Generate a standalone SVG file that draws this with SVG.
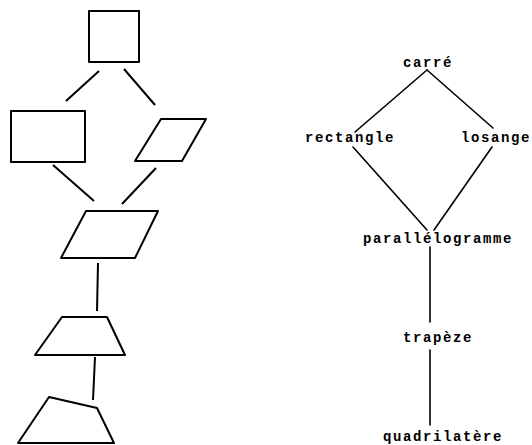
<svg xmlns="http://www.w3.org/2000/svg" width="532" height="445" viewBox="0 0 532 445">
<style>
.s{fill:none;stroke:#000;stroke-width:2;stroke-linejoin:round}
.c{fill:none;stroke:#000;stroke-width:1.6;stroke-linecap:round}
.t{font-family:"Liberation Mono",monospace;font-size:14px;font-weight:bold;letter-spacing:1.6px;fill:#000}
</style>
<rect width="532" height="445" fill="#fff"/>
<g id="shape-carre"><rect class="s" x="89" y="11" width="50" height="51"/></g>
<g id="shape-rectangle"><rect class="s" x="11" y="111" width="74" height="51"/></g>
<g id="shape-losange"><polygon class="s" points="161,119 206,119 182,161 135,161"/></g>
<g id="shape-parallelogramme"><polygon class="s" points="86,211 158,211 135,258 61,258"/></g>
<g id="shape-trapeze"><polygon class="s" points="62,317 107,317 125,355 35,355"/></g>
<g id="shape-quadrilatere"><polygon class="s" points="49,397 97,408 114,443 18,443"/></g>
<g id="label-carre"><text class="t" x="403" y="67">carré</text></g>
<g id="label-rectangle"><text class="t" x="305" y="142">rectangle</text></g>
<g id="label-losange"><text class="t" x="461" y="142" letter-spacing="1.4">losange</text></g>
<g id="label-parallelogramme"><text class="t" x="363" y="243">parallélogramme</text></g>
<g id="label-trapeze"><text class="t" x="403" y="342">trapèze</text></g>
<g id="label-quadrilatere"><text class="t" x="383" y="441">quadrilatère</text></g>
<g id="connectors">
<line class="s" x1="99" y1="71" x2="66" y2="101"/>
<line class="s" x1="124" y1="69" x2="155" y2="105"/>
<line class="s" x1="53" y1="165" x2="94" y2="201"/>
<line class="s" x1="156" y1="168" x2="122" y2="204"/>
<line class="s" x1="98" y1="263" x2="97" y2="311"/>
<line class="s" x1="95" y1="357" x2="93" y2="400"/>
<line class="c" x1="427" y1="70" x2="355" y2="132"/>
<line class="c" x1="427" y1="70" x2="493" y2="128"/>
<line class="c" x1="353" y1="147" x2="427" y2="230"/>
<line class="c" x1="492" y1="147" x2="434" y2="230"/>
<line class="c" x1="430" y1="247" x2="430" y2="322"/>
<line class="c" x1="430" y1="350" x2="430" y2="425"/>
</g>
</svg>
